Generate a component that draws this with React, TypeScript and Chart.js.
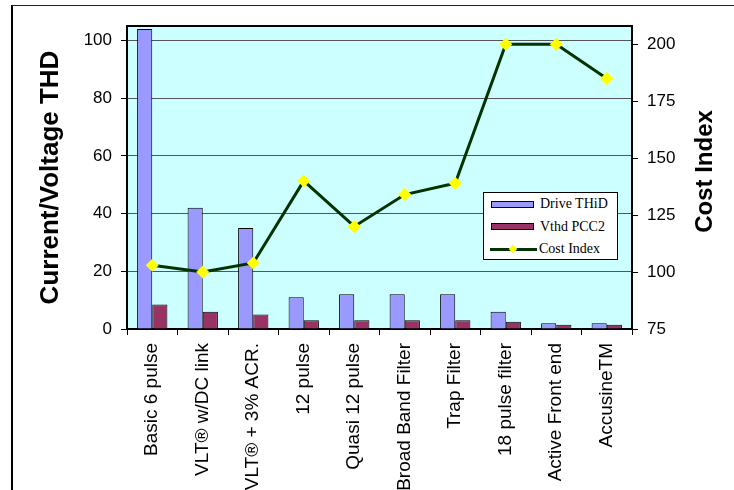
import React, { useEffect, useRef } from 'react';
import { Chart, registerables } from 'chart.js';

Chart.register(...registerables);

const categories = [
  'Basic 6 pulse',
  'VLT® w/DC link',
  'VLT® + 3% ACR.',
  '12 pulse',
  'Quasi 12 pulse',
  'Broad Band Filter',
  'Trap Filter',
  '18 pulse filter',
  'Active Front end',
  'AccusineTM',
];
const driveTHiD = [104, 42, 35, 11, 12, 12, 12, 6, 2, 2];
const vthdPCC2 = [8.5, 6, 5, 3, 3, 3, 3, 2.5, 1.5, 1.5];
const costIndex = [103, 100, 104, 140, 120, 134, 139, 200, 200, 185];
const seriesNames = ['Drive THiD', 'Vthd PCC2', 'Cost Index'];
const leftTitle = 'Current/Voltage THD';
const rightTitle = 'Cost Index';
const leftTickValues = [0, 20, 40, 60, 80, 100];
const rightTickValues = [75, 100, 125, 150, 175, 200];
const leftRange = { min: 0, max: 105 };
const rightRange = { min: 75, max: 208 };

const COLORS = {
  plot: '#CCFFFF',
  drive: '#9999FF',
  vthd: '#993366',
  line: '#003300',
  point: '#FFFF00',
  grid: '#555555',
};

const SANS = '"Liberation Sans", Arial, Helvetica, sans-serif';
const SERIF = '"Liberation Serif", "Times New Roman", serif';

const decorPlugin = {
  id: 'decor',
  beforeDraw(chart: any) {
    const { ctx, chartArea: a } = chart;
    ctx.save();
    ctx.fillStyle = COLORS.plot;
    ctx.fillRect(a.left, a.top, a.right - a.left, a.bottom - a.top);
    ctx.restore();
  },
  beforeDatasetsDraw(chart: any) {
    const { ctx, chartArea: a } = chart;
    ctx.save();
    ctx.strokeStyle = '#000';
    ctx.lineWidth = 2;
    ctx.strokeRect(a.left, a.top, a.right - a.left, a.bottom - a.top);
    ctx.restore();
  },
  afterDraw(chart: any) {
    const { ctx, chartArea: a } = chart;
    ctx.save();
    ctx.font = `bold 24px ${SANS}`;
    ctx.fillStyle = '#000';
    ctx.textAlign = 'center';
    ctx.textBaseline = 'middle';
    ctx.translate(705, (a.top + a.bottom) / 2 - 6);
    ctx.rotate(-Math.PI / 2);
    ctx.fillText(rightTitle, 0, 0);
    ctx.restore();
  },
};

export default function App() {
  const ref = useRef<HTMLCanvasElement | null>(null);

  useEffect(() => {
    if (!ref.current) return;
    Chart.defaults.font.family = SANS;
    const chart = new Chart(ref.current, {
      type: 'bar',
      data: {
        labels: categories,
        datasets: [
          {
            type: 'line',
            label: seriesNames[2],
            data: costIndex,
            yAxisID: 'y1',
            borderColor: COLORS.line,
            borderWidth: 3,
            pointStyle: 'rectRot',
            pointRadius: 6.5,
            pointBackgroundColor: COLORS.point,
            pointBorderColor: COLORS.point,
            pointBorderWidth: 0,
            tension: 0,
            order: 0,
          } as any,
          {
            type: 'bar',
            label: seriesNames[0],
            data: driveTHiD,
            yAxisID: 'y',
            backgroundColor: COLORS.drive,
            borderColor: '#000',
            borderWidth: 1,
            barPercentage: 1,
            categoryPercentage: 0.6,
            order: 1,
          },
          {
            type: 'bar',
            label: seriesNames[1],
            data: vthdPCC2,
            yAxisID: 'y',
            backgroundColor: COLORS.vthd,
            borderColor: '#000',
            borderWidth: 1,
            barPercentage: 1,
            categoryPercentage: 0.6,
            order: 2,
          },
        ],
      },
      options: {
        responsive: false,
        animation: false,
        layout: { padding: { top: 26, left: 0, right: 0, bottom: 0 } },
        plugins: {
          legend: { display: false },
          tooltip: { enabled: false },
        },
        scales: {
          x: {
            grid: {
              offset: true,
              drawOnChartArea: false,
              drawTicks: true,
              tickLength: 6,
              color: '#000',
              lineWidth: 1,
            },
            border: { display: true, color: '#000', width: 2 },
            ticks: {
              autoSkip: false,
              maxRotation: 90,
              minRotation: 90,
              padding: 8,
              color: '#000',
              font: { size: 19, family: SANS },
            },
            afterFit: (s: any) => {
              s.height = 161;
            },
          },
          y: {
            position: 'left',
            min: leftRange.min,
            max: leftRange.max,
            ticks: {
              padding: 9,
              color: '#000',
              font: { size: 17, family: SANS },
            },
            grid: {
              color: COLORS.grid,
              lineWidth: 1,
              tickLength: 6,
              tickColor: '#000',
            },
            border: { display: true, color: '#000', width: 2 },
            title: {
              display: true,
              text: leftTitle,
              color: '#000',
              font: { size: 26, weight: 'bold', family: SANS },
              padding: { top: 35, bottom: 0 },
            },
            afterBuildTicks: (s: any) => {
              s.ticks = leftTickValues.map((v) => ({ value: v }));
            },
            afterFit: (s: any) => {
              s.width = 127;
            },
          },
          y1: {
            position: 'right',
            min: rightRange.min,
            max: rightRange.max,
            ticks: {
              padding: 9,
              color: '#000',
              font: { size: 17, family: SANS },
            },
            grid: {
              drawOnChartArea: false,
              tickLength: 6,
              color: '#000',
            },
            border: { display: true, color: '#000', width: 2 },
            afterBuildTicks: (s: any) => {
              s.ticks = rightTickValues.map((v) => ({ value: v }));
            },
            afterFit: (s: any) => {
              s.width = 102;
            },
          },
        },
      } as any,
      plugins: [decorPlugin],
    });
    return () => chart.destroy();
  }, []);

  const rowTops = [11, 33.5, 56];

  return (
    <div
      style={{
        position: 'fixed',
        left: 0,
        top: 0,
        width: 734,
        height: 490,
        overflow: 'hidden',
        background: '#fff',
      }}
    >
      <div
        style={{
          position: 'absolute',
          left: 11,
          top: 5,
          width: 900,
          height: 700,
          borderLeft: '2px solid #000',
          borderTop: '1px solid #222',
        }}
      />
      <canvas
        ref={ref}
        width={734}
        height={490}
        style={{ position: 'absolute', left: 0, top: 0 }}
      />
      <div
        style={{
          position: 'absolute',
          left: 483,
          top: 192,
          width: 133,
          height: 66,
          border: '1px solid #000',
          background: '#fff',
          fontFamily: SERIF,
          fontSize: 14,
          color: '#000',
        }}
      >
        {seriesNames.map((name, i) => (
          <div
            key={name}
            style={{
              position: 'absolute',
              left: 6,
              top: rowTops[i] - 10,
              height: 20,
              display: 'flex',
              alignItems: 'center',
              whiteSpace: 'nowrap',
            }}
          >
            {i < 2 ? (
              <div
                style={{
                  width: 41,
                  height: 5,
                  border: '1px solid #000',
                  background: i === 0 ? COLORS.drive : COLORS.vthd,
                  marginRight: 6,
                  marginLeft: 1,
                }}
              />
            ) : (
              <div
                style={{
                  position: 'relative',
                  width: 47,
                  height: 10,
                  marginRight: 2,
                }}
              >
                <div
                  style={{
                    position: 'absolute',
                    left: 0,
                    top: 3.5,
                    width: 47,
                    height: 3,
                    background: COLORS.line,
                  }}
                />
                <div
                  style={{
                    position: 'absolute',
                    left: 20,
                    top: 1.5,
                    width: 6,
                    height: 6,
                    background: COLORS.point,
                    transform: 'rotate(45deg)',
                  }}
                />
              </div>
            )}
            <span>{name}</span>
          </div>
        ))}
      </div>
    </div>
  );
}
